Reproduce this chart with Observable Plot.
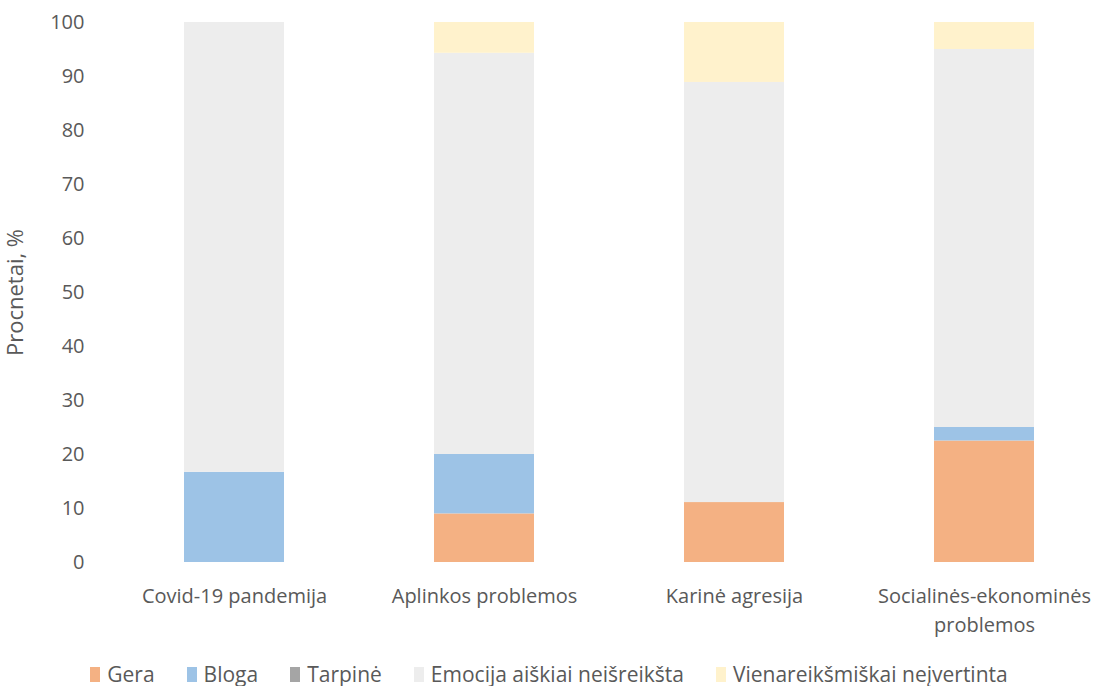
<!DOCTYPE html>
<html>
<head>
<meta charset="utf-8">
<script src="https://cdn.jsdelivr.net/npm/d3@7"></script>
<script src="https://cdn.jsdelivr.net/npm/@observablehq/plot@0.6"></script>
<style>
  html, body { margin: 0; padding: 0; background: #fff; }
  body { width: 1098px; height: 686px; overflow: hidden; font-family: "Open Sans", sans-serif; }
  #legend { position: absolute; left: 0; top: 660px; width: 1098px; display: flex; justify-content: center; font-size: 21px; color: #595959; }
  #legend .item { display: flex; align-items: center; margin: 0 16px; }
  #legend .sw { width: 10px; height: 15px; margin-right: 7px; }
</style>
</head>
<body>
<div id="chart"></div>
<div id="legend"></div>
<script>
const categories = ["Covid-19 pandemija", "Aplinkos problemos", "Karinė agresija", "Socialinės-ekonominės problemos"];
const xTickLabels = ["Covid-19 pandemija", "Aplinkos problemos", "Karinė agresija", "Socialinės-ekonominės\nproblemos"];
const seriesNames = ["Gera", "Bloga", "Tarpinė", "Emocija aiškiai neišreikšta", "Vienareikšmiškai neįvertinta"];
const seriesColors = ["#F4B183", "#9DC3E6", "#A5A5A5", "#EDEDED", "#FFF2CC"];
const gera = [0, 9.0, 11.1, 22.5];
const bloga = [16.7, 11.0, 0, 2.5];
const tarpine = [0, 0, 0, 0];
const emocija = [83.3, 74.3, 77.8, 70.0];
const vienareiksmiskai = [0, 5.7, 11.1, 5.0];
const yTicks = [0, 10, 20, 30, 40, 50, 60, 70, 80, 90, 100];

const seriesValues = [gera, bloga, tarpine, emocija, vienareiksmiskai];
const rows = [];
seriesNames.forEach((s, si) => {
  categories.forEach((c, ci) => rows.push({category: c, series: s, value: seriesValues[si][ci]}));
});

const chart = Plot.plot({
  width: 1098,
  height: 640,
  marginTop: 22,
  marginBottom: 78,
  marginLeft: 108,
  marginRight: 0,
  style: {fontFamily: "'Open Sans', sans-serif", fontSize: "20px", color: "#595959", background: "#fff"},
  x: {domain: categories, range: [108, 1110], paddingInner: 0.6, paddingOuter: 0.3},
  y: {domain: [0, 100]},
  color: {domain: seriesNames, range: seriesColors},
  marks: [
    Plot.barY(rows, Plot.stackY({x: "category", y: "value", fill: "series", z: "series"})),
    Plot.axisX({label: null, tickSize: 0, tickPadding: 20, lineHeight: 1.45, fontSize: 20,
      tickFormat: (d) => xTickLabels[categories.indexOf(d)]}),
    Plot.axisY({ticks: yTicks, tickSize: 0, tickPadding: 24, fontSize: 20,
      label: null}),
    Plot.axisY({ticks: [], tickSize: 0, fontSize: 22,
      label: "Procnetai, %", labelArrow: false, labelAnchor: "center", labelOffset: 101})
  ]
});
document.getElementById("chart").appendChild(chart);

const legend = document.getElementById("legend");
seriesNames.forEach((s, i) => {
  const it = document.createElement("div");
  it.className = "item";
  const sw = document.createElement("span");
  sw.className = "sw";
  sw.style.background = seriesColors[i];
  const t = document.createElement("span");
  t.textContent = s;
  it.appendChild(sw); it.appendChild(t);
  legend.appendChild(it);
});
</script>
</body>
</html>
